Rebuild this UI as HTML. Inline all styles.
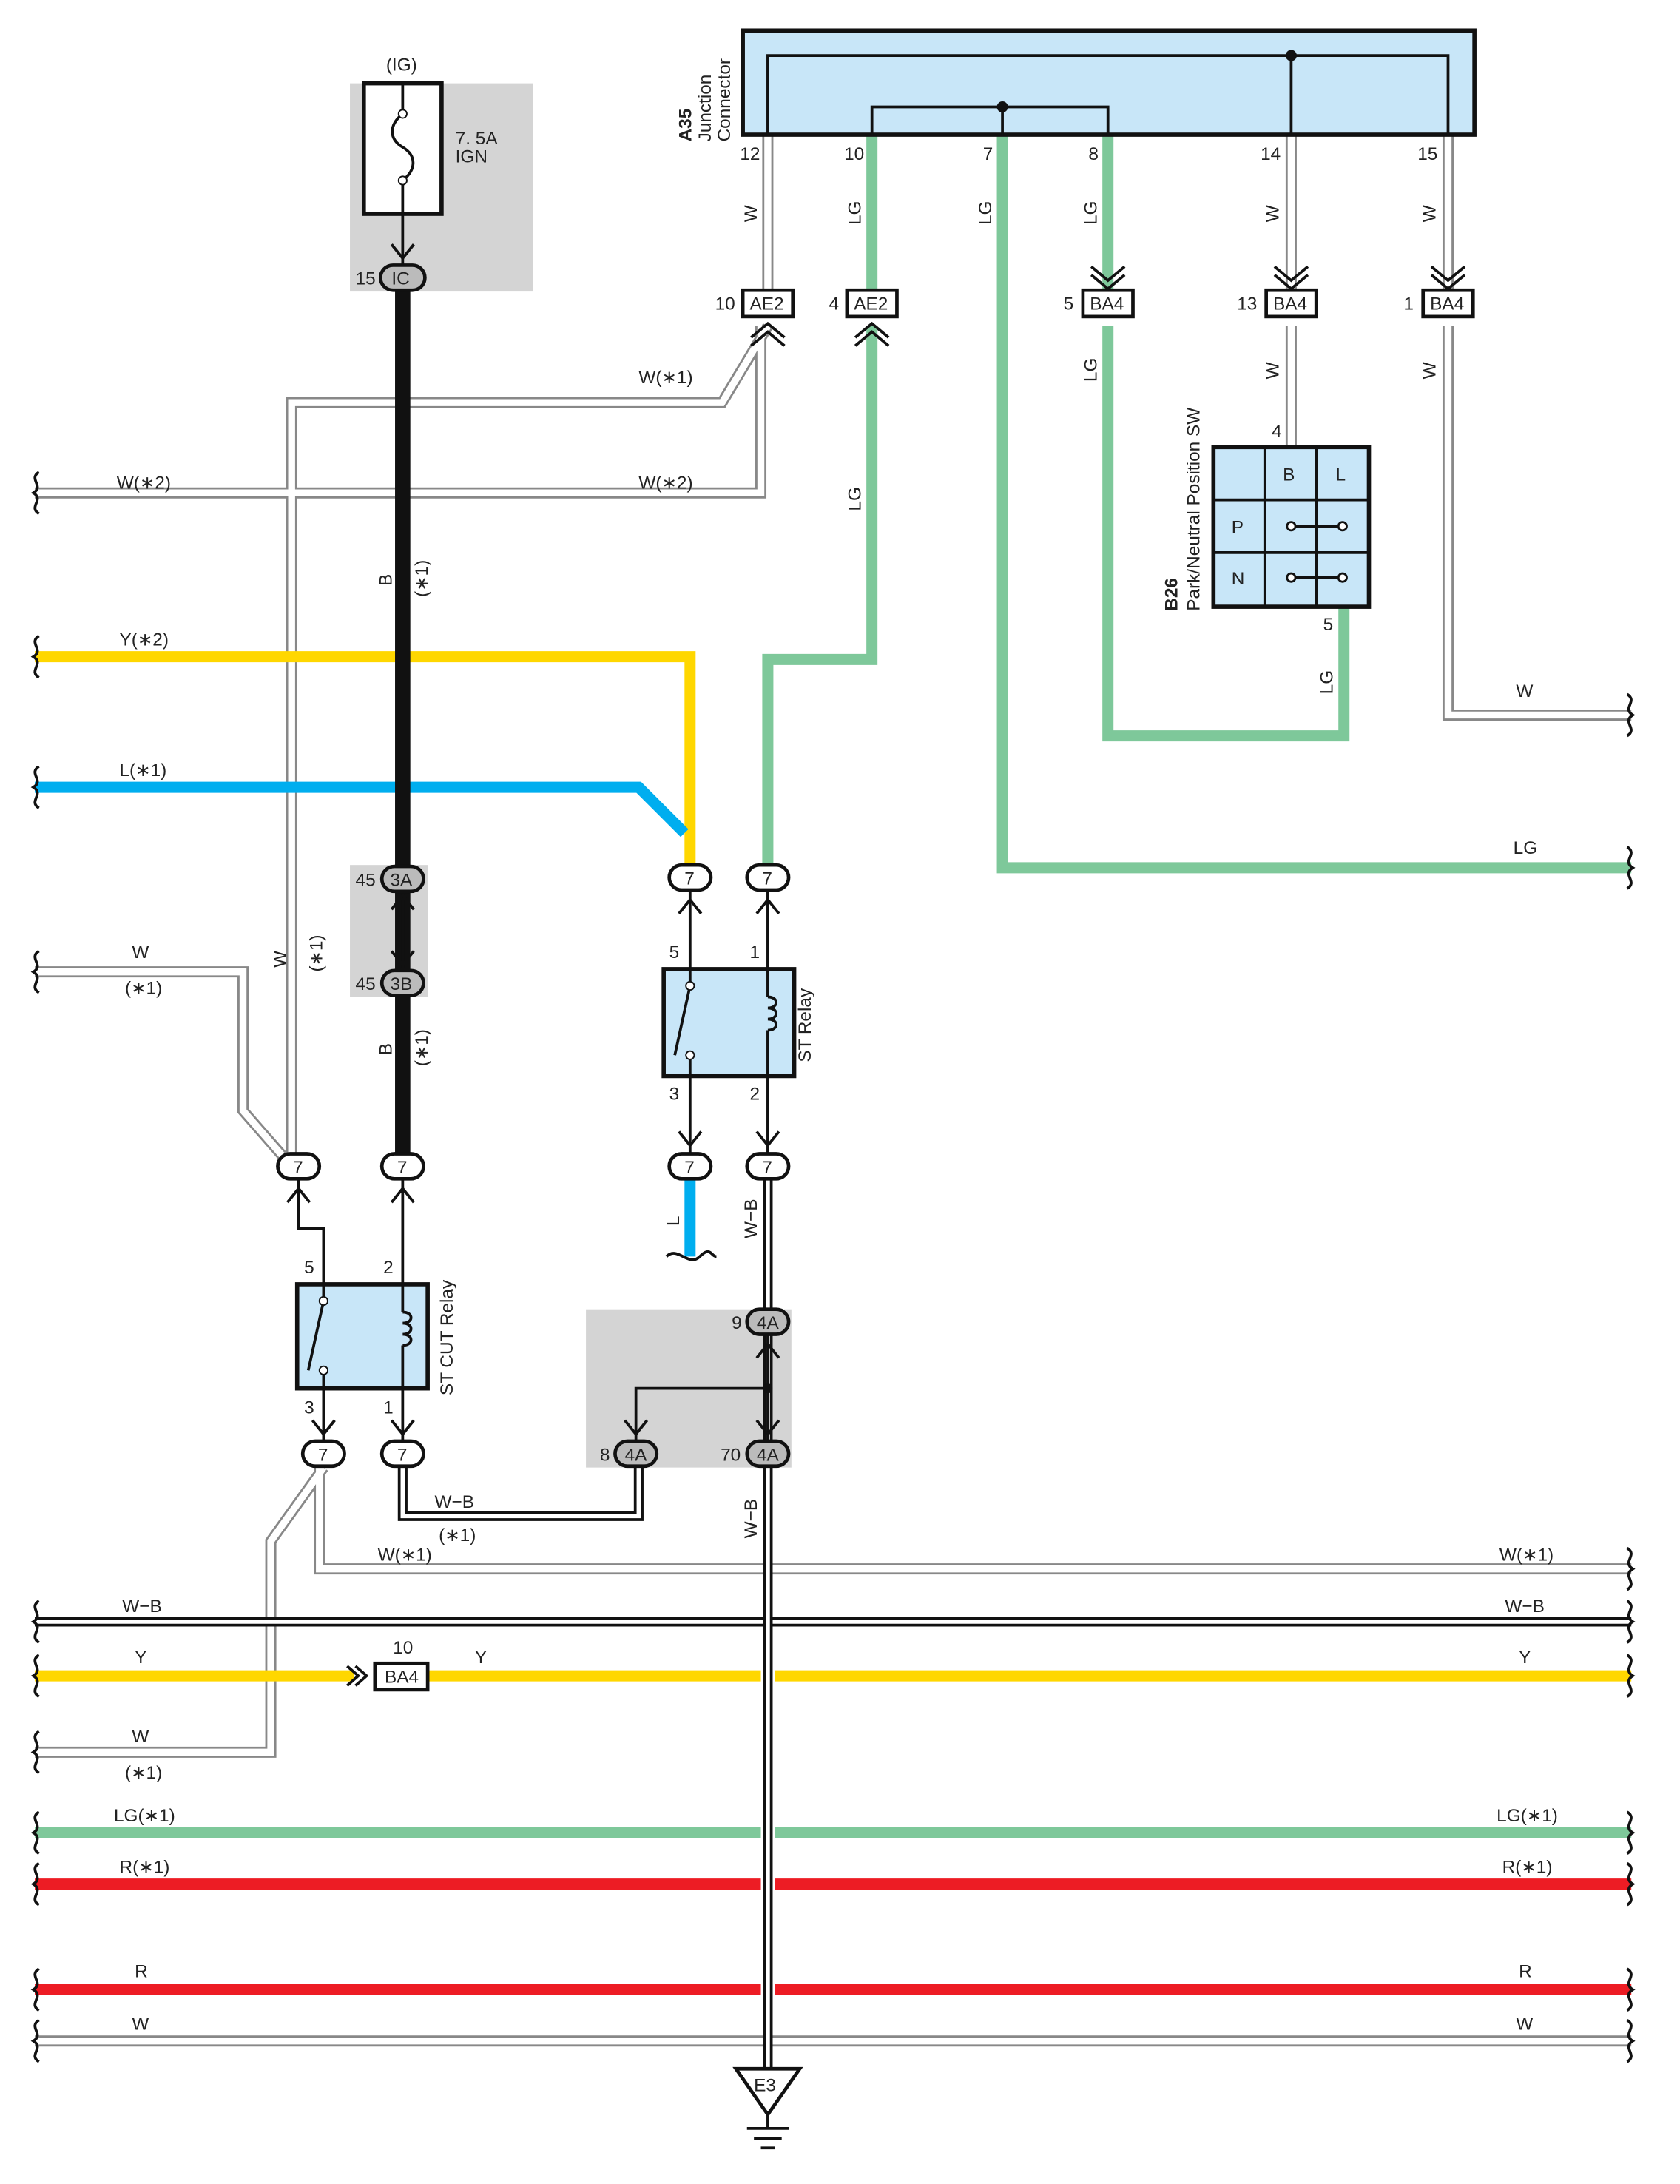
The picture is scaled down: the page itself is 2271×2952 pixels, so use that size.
<!DOCTYPE html>
<html><head><meta charset="utf-8"><style>
html,body{margin:0;padding:0;background:#fff}
svg{display:block}
text{font-family:"Liberation Sans",sans-serif;font-size:13px;fill:#222}
.w1{fill:none;stroke:#888;stroke-width:8}
.w2{fill:none;stroke:#fff;stroke-width:5}
.g{fill:none;stroke:#7ec89a;stroke-width:8}
.y{fill:none;stroke:#ffd700;stroke-width:8}
.bl{fill:none;stroke:#00aeef;stroke-width:8}
.r{fill:none;stroke:#ed1c24;stroke-width:8}
.k{fill:none;stroke:#111;stroke-width:2}
.con{fill:#fff;stroke:#111;stroke-width:2.5}
.cong{fill:#bbb;stroke:#111;stroke-width:2.5}
.sq{fill:none;stroke:#111;stroke-width:2}
</style></head><body>
<svg width="2271" height="2952" viewBox="0 0 1210 1573" xmlns="http://www.w3.org/2000/svg">
<rect x="252" y="60" width="132" height="150" fill="#d4d4d4"/>
<rect x="252" y="623" width="56" height="95" fill="#d4d4d4"/>
<rect x="422" y="943" width="148" height="114" fill="#d4d4d4"/>

<g>
<path class="w1" d="M553 97V218 M553 235L520 290H210V840 M548 235V355H25 M930 97V218 M930 235V322 M1043 97V218 M1043 235V515H1175 M25 700H175V800L210 840 M230 1057V1130H1175 M233 1057L195 1110V1262H25 M25 1470H1175"/>
<path class="w2" d="M553 97V218 M553 235L520 290H210V840 M548 235V355H25 M930 97V218 M930 235V322 M1043 97V218 M1043 235V515H1175 M25 700H175V800L210 840 M230 1057V1130H1175 M233 1057L195 1110V1262H25 M25 1470H1175"/>
</g>
<path class="g" d="M628 97V218 M628 235V475H553V632 M722 80V625H1175 M798 97V218 M798 235V530H968V437 M25 1320H548 M558 1320H1175"/>
<path class="y" d="M25 473H497V632 M25 1207H255 M300 1207H548 M558 1207H1175"/>
<path class="bl" d="M25 567H460L493 600 M497 848V905"/>
<path class="r" d="M25 1357H548 M558 1357H1175 M25 1433H548 M558 1433H1175"/>
<path d="M25 1168H1175" stroke="#111" stroke-width="7"/>
<path d="M25 1168H1175" stroke="#fff" stroke-width="3"/>
<path d="M290 1057V1092H460V1057" fill="none" stroke="#111" stroke-width="7"/>
<path d="M290 1057V1092H460V1057" fill="none" stroke="#fff" stroke-width="3"/>
<path d="M553 848V1490" stroke="#111" stroke-width="7"/>
<path d="M553 848V1490" stroke="#fff" stroke-width="3"/>
<path d="M290 210V840" stroke="#111" stroke-width="11"/>
<path class="k" d="M290 640V700 M497 640V698 M553 640V698 M497 775V832 M553 775V832 M215 848V885H233V930 M290 848V930 M233 995V1040 M290 995V1040 M553 960V1040 M553 1000H458V1040 M290 130V190"/>

<rect x="535" y="22" width="527" height="75" fill="#c8e6f8" stroke="#111" stroke-width="3"/>
<path class="k" d="M553 97V40H1043V97 M930 40V97 M628 97V77H798V97 M722 77V97"/>
<circle cx="930" cy="40" r="4" fill="#111"/><circle cx="722" cy="77" r="4" fill="#111"/>
<text x="498" y="102" transform="rotate(-90 498 102)" font-weight="bold">A35</text>
<text x="512" y="102" transform="rotate(-90 512 102)">Junction</text>
<text x="526" y="102" transform="rotate(-90 526 102)">Connector</text>
<text x="533" y="115">12</text><text x="608" y="115">10</text><text x="708" y="115">7</text><text x="784" y="115">8</text><text x="908" y="115">14</text><text x="1021" y="115">15</text>
<g font-size="12">
<text x="545" y="160" transform="rotate(-90 545 160)">W</text>
<text x="620" y="162" transform="rotate(-90 620 162)">LG</text>
<text x="714" y="162" transform="rotate(-90 714 162)">LG</text>
<text x="790" y="162" transform="rotate(-90 790 162)">LG</text>
<text x="921" y="160" transform="rotate(-90 921 160)">W</text>
<text x="1034" y="160" transform="rotate(-90 1034 160)">W</text>
<text x="790" y="275" transform="rotate(-90 790 275)">LG</text>
<text x="921" y="273" transform="rotate(-90 921 273)">W</text>
<text x="1034" y="273" transform="rotate(-90 1034 273)">W</text>
<text x="620" y="368" transform="rotate(-90 620 368)">LG</text>
<text x="960" y="500" transform="rotate(-90 960 500)">LG</text>
</g>
<g>
<rect x="535" y="209" width="36" height="19" class="con"/><text x="540" y="223">AE2</text><text x="515" y="223">10</text>
<rect x="610" y="209" width="36" height="19" class="con"/><text x="615" y="223">AE2</text><text x="597" y="223">4</text>
<rect x="780" y="209" width="36" height="19" class="con"/><text x="785" y="223">BA4</text><text x="766" y="223">5</text>
<rect x="912" y="209" width="36" height="19" class="con"/><text x="917" y="223">BA4</text><text x="891" y="223">13</text>
<rect x="1025" y="209" width="36" height="19" class="con"/><text x="1030" y="223">BA4</text><text x="1011" y="223">1</text>
<path class="sq" stroke-width="2.5" d="M541 243L553 233L565 243 M541 249L553 239L565 249 M616 243L628 233L640 243 M616 249L628 239L640 249 M786 192L798 202L810 192 M786 198L798 208L810 198 M918 192L930 202L942 192 M918 198L930 208L942 198 M1031 192L1043 202L1055 192 M1031 198L1043 208L1055 198"/>
</g>
<rect x="874" y="322" width="112" height="115" fill="#c8e6f8" stroke="#111" stroke-width="3"/>
<path class="k" d="M874 360H986 M874 398H986 M911 322V437 M948 322V437"/>
<text x="924" y="346">B</text><text x="962" y="346">L</text><text x="887" y="384">P</text><text x="887" y="421">N</text>
<path class="k" d="M930 379H967 M930 416H967"/><circle cx="930" cy="379" r="3" fill="#fff" stroke="#111" stroke-width="1.5"/><circle cx="967" cy="379" r="3" fill="#fff" stroke="#111" stroke-width="1.5"/><circle cx="930" cy="416" r="3" fill="#fff" stroke="#111" stroke-width="1.5"/><circle cx="967" cy="416" r="3" fill="#fff" stroke="#111" stroke-width="1.5"/>
<text x="916" y="315">4</text><text x="953" y="454">5</text>
<text x="848" y="440" transform="rotate(-90 848 440)" font-weight="bold">B26</text>
<text x="864" y="440" transform="rotate(-90 864 440)">Park/Neutral Position SW</text>

<text x="278" y="51">(IG)</text>
<rect x="262" y="60" width="56" height="94" fill="#fff" stroke="#111" stroke-width="3"/>
<path class="k" d="M290 60V82 M290 82C280 90 280 100 290 106C300 112 300 122 290 130 M290 130V154"/>
<circle cx="290" cy="82" r="3" fill="#fff" stroke="#111"/><circle cx="290" cy="130" r="3" fill="#fff" stroke="#111"/>
<text x="328" y="104">7. 5A</text><text x="328" y="117">IGN</text>
<path class="sq" stroke-width="2.5" d="M282 176L290 186L298 176"/>
<rect x="274" y="191" width="32" height="18" rx="9" class="cong"/><text x="282" y="205">IC</text><text x="256" y="205">15</text>

<rect x="275" y="624" width="30" height="18" rx="9" class="cong"/><text x="281" y="638">3A</text><text x="256" y="638">45</text>
<rect x="275" y="699" width="30" height="18" rx="9" class="cong"/><text x="281" y="713">3B</text><text x="256" y="713">45</text>
<path class="sq" stroke-width="2.5" d="M282 655L290 645L298 655 M282 685L290 695L298 685"/>
<g font-size="12">
<text x="282" y="422" transform="rotate(-90 282 422)">B</text>
<text x="308" y="430" transform="rotate(-90 308 430)">(∗1)</text>
<text x="282" y="760" transform="rotate(-90 282 760)">B</text>
<text x="308" y="768" transform="rotate(-90 308 768)">(∗1)</text>
<text x="206" y="697" transform="rotate(-90 206 697)">W</text>
<text x="232" y="700" transform="rotate(-90 232 700)">(∗1)</text>
</g>
<g font-size="13">
<text x="460" y="276">W(∗1)</text><text x="84" y="352">W(∗2)</text><text x="460" y="352">W(∗2)</text>
<text x="86" y="465">Y(∗2)</text><text x="86" y="559">L(∗1)</text>
<text x="95" y="690">W</text><text x="90" y="716">(∗1)</text>
<text x="1092" y="502">W</text><text x="1090" y="615">LG</text>
<text x="272" y="1124">W(∗1)</text><text x="1080" y="1124">W(∗1)</text>
<text x="88" y="1161">W−B</text><text x="1084" y="1161">W−B</text>
<text x="97" y="1198">Y</text><text x="342" y="1198">Y</text><text x="1094" y="1198">Y</text>
<text x="95" y="1255">W</text><text x="90" y="1281">(∗1)</text>
<text x="82" y="1312">LG(∗1)</text><text x="1078" y="1312">LG(∗1)</text>
<text x="86" y="1349">R(∗1)</text><text x="1082" y="1349">R(∗1)</text>
<text x="97" y="1424">R</text><text x="1094" y="1424">R</text>
<text x="95" y="1462">W</text><text x="1092" y="1462">W</text>
<text x="313" y="1086">W−B</text><text x="316" y="1110">(∗1)</text>
<text x="545" y="892" transform="rotate(-90 545 892)">W−B</text>
<text x="545" y="1108" transform="rotate(-90 545 1108)">W−B</text>
<text x="489" y="883" transform="rotate(-90 489 883)">L</text>
</g>
<rect x="478" y="698" width="94" height="77" fill="#c8e6f8" stroke="#111" stroke-width="3"/>
<path class="k" d="M497 698V710 M497 710L486 760 M497 760V775 M553 698V718 M553 718c8 0 8 8 0 8c8 0 8 8 0 8c8 0 8 8 0 8 M553 742V775"/>
<circle cx="497" cy="710" r="3" fill="#fff" stroke="#111"/><circle cx="497" cy="760" r="3" fill="#fff" stroke="#111"/>
<text x="584" y="765" transform="rotate(-90 584 765)">ST Relay</text>
<text x="482" y="690">5</text><text x="540" y="690">1</text><text x="482" y="792">3</text><text x="540" y="792">2</text>
<rect x="214" y="925" width="94" height="75" fill="#c8e6f8" stroke="#111" stroke-width="3"/>
<path class="k" d="M233 925V937 M233 937L222 987 M233 987V1000 M290 925V945 M290 945c8 0 8 8 0 8c8 0 8 8 0 8c8 0 8 8 0 8 M290 969V1000"/>
<circle cx="233" cy="937" r="3" fill="#fff" stroke="#111"/><circle cx="233" cy="987" r="3" fill="#fff" stroke="#111"/>
<text x="326" y="1005" transform="rotate(-90 326 1005)">ST CUT Relay</text>
<text x="219" y="917">5</text><text x="276" y="917">2</text><text x="219" y="1018">3</text><text x="276" y="1018">1</text>

<g>
<rect x="482" y="623" width="30" height="18" rx="9" class="con"/><text x="493" y="637">7</text>
<rect x="538" y="623" width="30" height="18" rx="9" class="con"/><text x="549" y="637">7</text>
<rect x="482" y="831" width="30" height="18" rx="9" class="con"/><text x="493" y="845">7</text>
<rect x="538" y="831" width="30" height="18" rx="9" class="con"/><text x="549" y="845">7</text>
<rect x="200" y="831" width="30" height="18" rx="9" class="con"/><text x="211" y="845">7</text>
<rect x="275" y="831" width="30" height="18" rx="9" class="con"/><text x="286" y="845">7</text>
<rect x="218" y="1038" width="30" height="18" rx="9" class="con"/><text x="229" y="1052">7</text>
<rect x="275" y="1038" width="30" height="18" rx="9" class="con"/><text x="286" y="1052">7</text>
<rect x="538" y="943" width="30" height="18" rx="9" class="cong"/><text x="545" y="957">4A</text><text x="527" y="957">9</text>
<rect x="443" y="1038" width="30" height="18" rx="9" class="cong"/><text x="450" y="1052">4A</text><text x="432" y="1052">8</text>
<rect x="538" y="1038" width="30" height="18" rx="9" class="cong"/><text x="545" y="1052">4A</text><text x="519" y="1052">70</text>
<path class="sq" stroke-width="2.5" d="M489 658L497 648L505 658 M545 658L553 648L561 658 M489 815L497 825L505 815 M545 815L553 825L561 815 M207 866L215 856L223 866 M282 866L290 856L298 866 M225 1023L233 1033L241 1023 M282 1023L290 1033L298 1023 M545 978L553 968L561 978 M545 1023L553 1033L561 1023 M450 1023L458 1033L466 1023 M250 1200L258 1207L250 1214 M256 1200L264 1207L256 1214"/>
<circle cx="553" cy="1000" r="3.5" fill="#111"/>
</g>
<path class="sq" d="M480 905c8 -8 16 8 24 0 8-8 8 0 12 0"/>
<rect x="270" y="1198" width="38" height="19" class="con"/><text x="277" y="1212">BA4</text><text x="283" y="1191">10</text>
<path d="M530 1490H576L553 1523Z" fill="#fff" stroke="#111" stroke-width="2.5"/>
<text x="543" y="1506">E3</text>
<path class="k" d="M553 1523V1533 M538 1533H568 M543 1540H563 M548 1547H558"/>
<g class="sq">
<path d="M28 340c-8 5 4 10-4 15c8 5-4 10 4 15 M28 458c-8 5 4 10-4 15c8 5-4 10 4 15 M28 552c-8 5 4 10-4 15c8 5-4 10 4 15 M28 685c-8 5 4 10-4 15c8 5-4 10 4 15 M28 1153c-8 5 4 10-4 15c8 5-4 10 4 15 M28 1192c-8 5 4 10-4 15c8 5-4 10 4 15 M28 1247c-8 5 4 10-4 15c8 5-4 10 4 15 M28 1305c-8 5 4 10-4 15c8 5-4 10 4 15 M28 1342c-8 5 4 10-4 15c8 5-4 10 4 15 M28 1418c-8 5 4 10-4 15c8 5-4 10 4 15 M28 1455c-8 5 4 10-4 15c8 5-4 10 4 15"/>
<path d="M1172 500c8 5 -4 10 4 15c-8 5 4 10-4 15 M1172 610c8 5 -4 10 4 15c-8 5 4 10-4 15 M1172 1115c8 5 -4 10 4 15c-8 5 4 10-4 15 M1172 1153c8 5 -4 10 4 15c-8 5 4 10-4 15 M1172 1192c8 5 -4 10 4 15c-8 5 4 10-4 15 M1172 1305c8 5 -4 10 4 15c-8 5 4 10-4 15 M1172 1342c8 5 -4 10 4 15c-8 5 4 10-4 15 M1172 1418c8 5 -4 10 4 15c-8 5 4 10-4 15 M1172 1455c8 5 -4 10 4 15c-8 5 4 10-4 15"/>
</g>
</svg>
</body></html>
